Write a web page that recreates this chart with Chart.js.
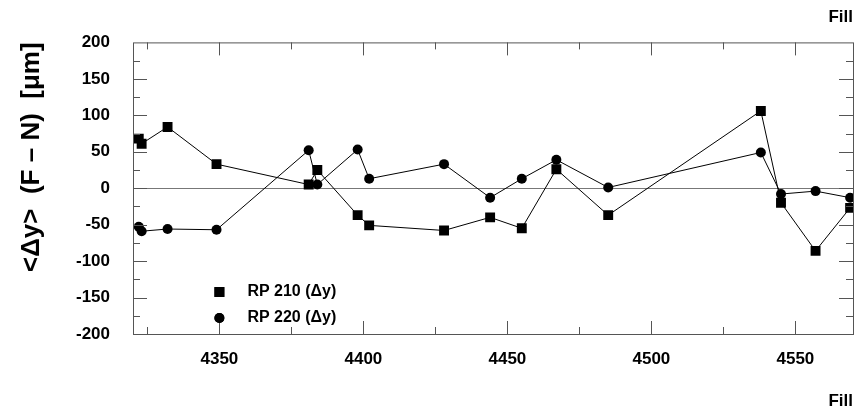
<!DOCTYPE html>
<html>
<head>
<meta charset="utf-8">
<script src="https://cdn.jsdelivr.net/npm/chart.js@4.4.1/dist/chart.umd.min.js"></script>
<style>
  html, body { margin: 0; padding: 0; background: #fff; }
  #wrap { width: 864px; height: 412px; }
</style>
</head>
<body>
<div id="wrap"><canvas id="grafico" width="864" height="412"></canvas></div>
<script>
// fills (x axis)
const fills = [4322, 4323, 4332, 4349, 4381, 4384, 4398, 4402, 4428, 4444, 4455, 4467, 4485, 4538, 4545, 4557, 4569];
// mean delta y, micrometres
const rp210 = [68, 61, 84, 33, 5, 25, -37, -51, -58, -40, -55, 26, -37, 106, -20, -86, -27];
const rp220 = [-53, -59, -56, -57, 52, 5, 53, 13, 33, -13, 13, 39, 1, 49, -8, -4, -13];
const xTicks = [4350, 4400, 4450, 4500, 4550];
const yTicks = [-200, -150, -100, -50, 0, 50, 100, 150, 200];

const fonte = 'Liberation Sans, Arial, Helvetica, sans-serif';

function pontos(vals) {
    return fills.map((f, i) => ({ x: f, y: vals[i] }));
}

// frame, inner tick marks and legend inside the plot
const moldura = {
    id: 'moldura',
    afterDatasetsDraw(chart) {
        const ctx = chart.ctx;
        const a = chart.chartArea;
        const sx = chart.scales.x, sy = chart.scales.y;
        ctx.save();
        ctx.strokeStyle = '#555';
        ctx.lineWidth = 1;
        ctx.beginPath();
        for (let v = 4325; v < 4570; v += 25) {
            const px = Math.round(sx.getPixelForValue(v)) + 0.5;
            const len = v % 50 === 0 ? 13 : 7;
            ctx.moveTo(px, a.bottom); ctx.lineTo(px, a.bottom - len);
            ctx.moveTo(px, a.top); ctx.lineTo(px, a.top + len);
        }
        for (let v = -175; v < 200; v += 25) {
            const py = Math.round(sy.getPixelForValue(v)) + 0.5;
            const len = v % 50 === 0 ? 14 : 7;
            ctx.moveTo(a.left, py); ctx.lineTo(a.left + len, py);
            ctx.moveTo(a.right, py); ctx.lineTo(a.right - len, py);
        }
        ctx.stroke();
        ctx.strokeRect(a.left + 0.5, a.top + 0.5, a.right - a.left, a.bottom - a.top);

        // legend
        const lx = sx.getPixelForValue(4350);
        const ly = [292, 318];
        ctx.font = 'bold 16px ' + fonte;
        ctx.fillStyle = '#000';
        ctx.textBaseline = 'middle';
        chart.data.datasets.forEach((ds, i) => {
            Chart.helpers.drawPoint(ctx, {
                pointStyle: ds.pointStyle, radius: ds.pointRadius,
                borderWidth: 0, rotation: 0
            }, lx, ly[i]);
            ctx.fillStyle = '#000';
            ctx.fill();
            ctx.fillText(ds.label, lx + 28, ly[i]);
        });
        ctx.restore();
    }
};

const ctxG = document.getElementById('grafico').getContext('2d');
const grafico = new Chart(ctxG, {
    type: 'line',
    data: {
        datasets: [
            {
                label: 'RP 210 (\u0394y)',
                data: pontos(rp210),
                borderColor: '#000',
                backgroundColor: '#000',
                borderWidth: 1,
                pointStyle: 'rect',
                pointRadius: 7,
                pointBorderWidth: 0,
                fill: false,
                tension: 0
            },
            {
                label: 'RP 220 (\u0394y)',
                data: pontos(rp220),
                borderColor: '#000',
                backgroundColor: '#000',
                borderWidth: 1,
                pointStyle: 'circle',
                pointRadius: 5,
                pointBorderWidth: 0,
                fill: false,
                tension: 0
            }
        ]
    },
    options: {
        responsive: false,
        animation: false,
        layout: { padding: { left: 0, right: 11, top: 0, bottom: 0 } },
        plugins: {
            legend: { display: false },
            tooltip: { enabled: false },
            title: {
                display: true,
                text: 'Fill',
                align: 'end',
                color: '#000',
                font: { family: fonte, size: 17, weight: 'bold' },
                padding: { top: 7, bottom: 15 }
            }
        },
        scales: {
            x: {
                type: 'linear',
                min: 4320,
                max: 4570,
                afterBuildTicks: s => { s.ticks = xTicks.map(v => ({ value: v })); },
                afterFit: s => { s.height = 412 - 334; },
                border: { display: false },
                grid: { display: false, drawTicks: false },
                ticks: {
                    color: '#000',
                    padding: 15,
                    callback: v => String(v),
                    font: { family: fonte, size: 17, weight: 'bold' }
                },
                title: {
                    display: true,
                    text: 'Fill',
                    align: 'end',
                    color: '#000',
                    font: { family: fonte, size: 17, weight: 'bold' },
                    padding: { top: 16, bottom: 0 }
                }
            },
            y: {
                min: -200,
                max: 200,
                afterBuildTicks: s => { s.ticks = yTicks.map(v => ({ value: v })); },
                afterFit: s => { s.width = 133; },
                border: { display: false },
                grid: {
                    drawTicks: false,
                    color: c => c.tick && c.tick.value === 0 ? '#777' : 'rgba(0,0,0,0)',
                    lineWidth: 1
                },
                ticks: {
                    color: '#000',
                    padding: 23,
                    font: { family: fonte, size: 17, weight: 'bold' }
                },
                title: {
                    display: true,
                    text: '<\u0394y>  (F \u2013 N)  [\u03bcm]',
                    align: 'end',
                    color: '#000',
                    font: { family: fonte, size: 26, weight: 'bold' },
                    padding: { top: 16, bottom: 0 }
                }
            }
        }
    },
    plugins: [moldura]
});
</script>
</body>
</html>
